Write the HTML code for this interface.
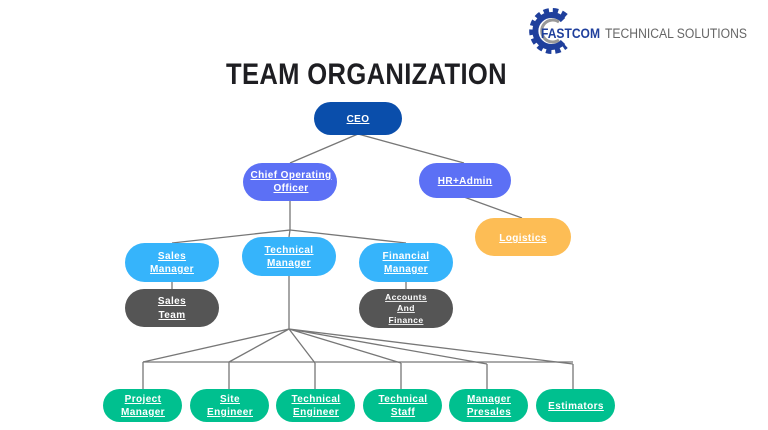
<!DOCTYPE html>
<html><head><meta charset="utf-8"><style>
html,body{margin:0;padding:0;background:#fff;width:768px;height:430px;overflow:hidden}
svg text{font-family:"Liberation Sans",sans-serif;font-weight:bold;text-decoration:underline;letter-spacing:0.4px}
</style></head><body>
<svg width="768" height="430" viewBox="0 0 768 430" xmlns="http://www.w3.org/2000/svg">
<!-- logo -->
<g transform="translate(552,31)">
  <path d="M13,-14 A19,19 0 1 0 13,14" fill="none" stroke="#1f3f9c" stroke-width="8" stroke-dasharray="5 3.5"/>
  <path d="M11,-11 A16,16 0 1 0 11,11" fill="none" stroke="#1f3f9c" stroke-width="6"/>
  <path d="M7,-9 A11,11 0 1 0 7,9" fill="none" stroke="#999" stroke-width="3"/>
</g>
<text x="541" y="38" font-size="14" fill="#1f3f9c" style="text-decoration:none;letter-spacing:0" textLength="59" lengthAdjust="spacingAndGlyphs">FASTCOM</text>
<text x="605" y="38" font-size="13.5" fill="#666" style="text-decoration:none;font-weight:normal;letter-spacing:0" textLength="142" lengthAdjust="spacingAndGlyphs">TECHNICAL SOLUTIONS</text>
<!-- title -->
<text x="226" y="84" font-size="30" fill="#1e1e22" style="text-decoration:none;font-weight:900" textLength="281" lengthAdjust="spacingAndGlyphs">TEAM ORGANIZATION</text>
<!-- connectors -->
<g stroke="#777" stroke-width="1.3" fill="none">
  <path d="M358,134 L290,163 M358,134 L464,163"/>
  <path d="M464,197 L522,218"/>
  <path d="M290,200 L290,230 L172,243 M290,230 L289,237 M290,230 L406,243"/>
  <path d="M172,281 V289 M406,281 V289"/>
  <path d="M289,276 V329"/>
  <path d="M289,329 L143,362 M289,329 L229,362 M289,329 L315,363 M289,329 L401,363 M289,329 L487,364 M289,329 L573,364"/>
  <path d="M143,362 H573"/>
  <path d="M143,362 V389 M229,362 V389 M315,363 V389 M401,363 V389 M487,364 V389 M573,364 V389"/>
</g>
<!-- nodes -->
<g font-size="10" text-anchor="middle" fill="#fff">
  <rect x="314" y="102" width="88" height="33" rx="16.5" fill="#0a4eab"/>
  <text x="358" y="122" fill="#fff">CEO</text>

  <rect x="243" y="163" width="94" height="38" rx="19" fill="#5c70f5"/>
  <text x="291" y="178" fill="#fff">Chief Operating</text><text x="291" y="191" fill="#fff">Officer</text>
  <rect x="419" y="163" width="92" height="35" rx="17.5" fill="#5c70f5"/>
  <text x="465" y="184" fill="#fff">HR+Admin</text>
  <rect x="475" y="218" width="96" height="38" rx="19" fill="#fdbd55"/>
  <text x="523" y="241" fill="#fff">Logistics</text>

  <rect x="125" y="243" width="94" height="39" rx="19.5" fill="#36b4fb"/>
  <text x="172" y="259" fill="#fff">Sales</text><text x="172" y="272" fill="#fff">Manager</text>
  <rect x="242" y="237" width="94" height="39" rx="19.5" fill="#36b4fb"/>
  <text x="289" y="253" fill="#fff">Technical</text><text x="289" y="266" fill="#fff">Manager</text>
  <rect x="359" y="243" width="94" height="39" rx="19.5" fill="#36b4fb"/>
  <text x="406" y="259" fill="#fff">Financial</text><text x="406" y="272" fill="#fff">Manager</text>

  <rect x="125" y="289" width="94" height="38" rx="19" fill="#555"/>
  <text x="172" y="304" fill="#fff">Sales</text><text x="172" y="318" fill="#fff">Team</text>
  <rect x="359" y="289" width="94" height="39" rx="19.5" fill="#555"/>
  <g font-size="8.5"><text x="406" y="300" fill="#fff">Accounts</text><text x="406" y="311" fill="#fff">And</text><text x="406" y="323" fill="#fff">Finance</text></g>

  <g fill="#00c08f">
    <rect x="103" y="389" width="79" height="33" rx="16.5"/>
    <rect x="190" y="389" width="79" height="33" rx="16.5"/>
    <rect x="276" y="389" width="79" height="33" rx="16.5"/>
    <rect x="363" y="389" width="79" height="33" rx="16.5"/>
    <rect x="449" y="389" width="79" height="33" rx="16.5"/>
    <rect x="536" y="389" width="79" height="33" rx="16.5"/>
  </g>
  <text x="143" y="402" fill="#fff"> Project</text><text x="143" y="415" fill="#fff">Manager</text>
  <text x="230" y="402" fill="#fff"> Site</text><text x="230" y="415" fill="#fff">Engineer</text>
  <text x="316" y="402" fill="#fff">Technical</text><text x="316" y="415" fill="#fff">Engineer</text>
  <text x="403" y="402" fill="#fff">Technical</text><text x="403" y="415" fill="#fff">Staff</text>
  <text x="489" y="402" fill="#fff">Manager</text><text x="489" y="415" fill="#fff">Presales</text>
  <text x="576" y="409" fill="#fff">Estimators</text>
</g>
</svg>
</body></html>
